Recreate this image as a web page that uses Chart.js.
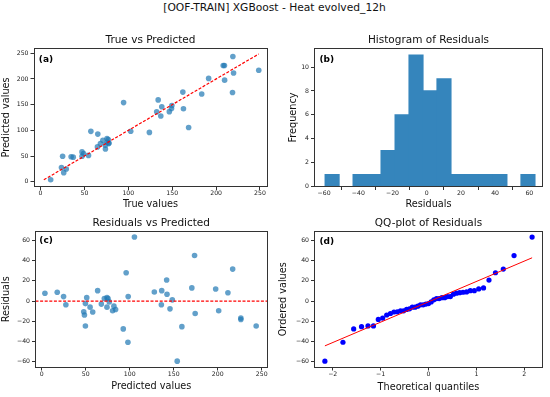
<!DOCTYPE html>
<html>
<head>
<meta charset="utf-8">
<script src="https://cdn.jsdelivr.net/npm/chart.js@4.4.0/dist/chart.umd.min.js"></script>
<style>
  body { margin: 0; background: #fff; }
  #wrap { position: relative; width: 550px; height: 397px; }
  #wrap canvas { position: absolute; left: 0; top: 0; }
  #suptitle { position: absolute; left: 0; top: 0; width: 549px; text-align: center;
              font: 10.7px "DejaVu Sans"; line-height: 15px; color: #111; }
</style>
</head>
<body>
<div id="wrap">
  <div id="suptitle">[OOF-TRAIN] XGBoost - Heat evolved_12h</div>
  <canvas id="chartA" width="550" height="397"></canvas>
  <canvas id="chartB" width="550" height="397"></canvas>
  <canvas id="chartC" width="550" height="397"></canvas>
  <canvas id="chartD" width="550" height="397"></canvas>
</div>
<script>
// values
const trueValues = [11.5, 23.8, 25.1, 26.4, 29.3, 34.8, 37.2, 47.2, 47.2, 49.0, 54.6, 57.3, 64.8, 65.2, 68.2,
                    71.0, 73.9, 73.7, 75.7, 77.1, 76.0, 77.9, 77.6, 94.6, 102.7, 124.0, 132.3, 134.0, 137.0, 138.1,
                    146.7, 149.2, 149.6, 162.1, 162.8, 168.7, 183.6, 191.5, 209.5, 208.1, 209.7, 218.7, 219.1, 219.9, 248.6];
const predValues = [3.7, 27.5, 49.7, 17.7, 24.9, 48.6, 47.8, 49.7, 58.0, 55.0, 51.2, 98.0, 67.8, 92.7, 74.2,
                    80.6, 63.6, 71.2, 84.0, 82.1, 76.8, 75.4, 74.2, 154.0, 98.3, 96.0, 136.0, 159.3, 128.0, 145.8,
                    136.4, 142.4, 148.4, 174.4, 142.0, 105.4, 170.6, 201.1, 226.3, 226.3, 197.7, 173.7, 243.7, 211.6, 217.0];

const binEdges = [-59.4, -51.2, -43.0, -34.9, -26.7, -18.5, -10.3, -2.2, 6.0, 14.2, 22.4, 30.6, 38.7, 46.9, 55.1, 63.3];
const binCounts = [1, 0, 1, 1, 3, 6, 11, 8, 9, 1, 1, 1, 1, 0, 1];

const theoQuantiles = [-2.163, -1.786, -1.562, -1.398, -1.263, -1.149, -1.048, -0.957, -0.873, -0.795, -0.721,
                       -0.651, -0.584, -0.520, -0.457, -0.397, -0.338, -0.280, -0.223, -0.167, -0.111, -0.055, 0,
                       0.055, 0.111, 0.167, 0.223, 0.280, 0.338, 0.397, 0.457, 0.520, 0.584, 0.651, 0.721, 0.795,
                       0.873, 0.957, 1.048, 1.149, 1.263, 1.398, 1.562, 1.786, 2.163];
const fitLineX = [-2.163, 2.163];
const fitLineY = [-44.3, 42.8];

const ticksValues = [0, 50, 100, 150, 200, 250];
const ticksHistX = [-60, -40, -20, 0, 20, 40, 60];
const ticksHistY = [0, 2, 4, 6, 8, 10];
const ticksResid = [-60, -40, -20, 0, 20, 40, 60];
const ticksQuant = [-2, -1, 0, 1, 2];

const residuals = trueValues.map((t, i) => t - predValues[i]);
const orderedResiduals = residuals.slice().sort((a, b) => a - b);

const FONT = '"DejaVu Sans"';
const SCATTER_BLUE = 'rgba(31,119,180,0.7)';

// box around the axes + the (a)/(b)... tag
const frameAndLabel = {
    id: 'frameAndLabel',
    afterDraw(chart, args, opts) {
        const { ctx, chartArea: a } = chart;
        ctx.save();
        ctx.strokeStyle = '#333';
        ctx.lineWidth = 1;
        ctx.strokeRect(Math.floor(a.left) + 0.5, Math.floor(a.top) + 0.5,
                       Math.round(a.right - a.left), Math.round(a.bottom - a.top));
        ctx.fillStyle = '#000';
        ctx.font = 'bold 9px ' + FONT;
        ctx.textBaseline = 'top';
        ctx.textAlign = 'left';
        ctx.fillText(opts.text, a.left + opts.dx, a.top + opts.dy);
        ctx.restore();
    }
};

function makeAxis(o) {
    return {
        type: 'linear',
        min: o.min,
        max: o.max,
        offset: false,
        grid: { drawOnChartArea: false, drawTicks: true, tickLength: 3.5, color: '#333', lineWidth: 1 },
        border: { display: false },
        ticks: {
            font: { family: FONT, size: 6.2, lineHeight: 1 },
            color: '#1a1a1a',
            padding: o.tickPad,
            autoSkip: false,
            maxRotation: 0,
            callback: v => String(v).replace('-', '\u2212')
        },
        title: {
            display: true,
            text: o.title,
            font: { family: FONT, size: 9.7, lineHeight: 1.2 },
            color: '#111',
            padding: o.titlePad
        },
        afterBuildTicks: s => { s.ticks = o.ticks.map(v => ({ value: v })); },
        afterFit: s => { if (s.isHorizontal()) s.height = o.size; else s.width = o.size; }
    };
}

function baseOptions(o) {
    return {
        responsive: false,
        animation: false,
        devicePixelRatio: 1,
        layout: { padding: o.padding },
        plugins: {
            legend: { display: false },
            tooltip: { enabled: false },
            title: {
                display: true,
                text: o.title,
                fullSize: false,
                font: { family: FONT, size: 10.5, weight: 'normal', lineHeight: 1.2 },
                color: '#111',
                padding: { top: 0, bottom: 2 }
            },
            frameAndLabel: o.label
        },
        scales: o.scales
    };
}

document.addEventListener('DOMContentLoaded', function() {
    // (a) true vs predicted
    new Chart(document.getElementById('chartA'), {
        type: 'scatter',
        plugins: [frameAndLabel],
        data: {
            datasets: [{
                data: trueValues.map((t, i) => ({ x: t, y: predValues[i] })),
                backgroundColor: SCATTER_BLUE,
                borderWidth: 0,
                pointRadius: 2.8,
                order: 1
            }, {
                data: [{ x: Math.min(...predValues), y: Math.min(...predValues) },
                       { x: Math.max(...trueValues), y: Math.max(...trueValues) }],
                showLine: true,
                borderColor: '#ff0000',
                borderWidth: 1.2,
                borderDash: [3, 1.6],
                pointRadius: 0,
                order: 0
            }]
        },
        options: baseOptions({
            title: 'True vs Predicted',
            padding: { left: 0, right: 283, top: 33.9, bottom: 185.5 },
            label: { text: '(a)', dx: 4.8, dy: 6.7 },
            scales: {
                x: makeAxis({ min: -7.5, max: 258, ticks: ticksValues, title: 'True values',
                              tickPad: 0.5, titlePad: { top: 0, bottom: 1 }, size: 25 }),
                y: makeAxis({ min: -9.3, max: 259.3, ticks: ticksValues, title: 'Predicted values',
                              tickPad: 2, titlePad: { top: 1.1, bottom: 0 }, size: 34 })
            }
        })
    });

    // (b) histogram of residuals
    const binCenters = binCounts.map((c, i) => (binEdges[i] + binEdges[i + 1]) / 2);
    new Chart(document.getElementById('chartB'), {
        type: 'bar',
        plugins: [frameAndLabel],
        data: {
            datasets: [{
                data: binCounts.map((c, i) => ({ x: binCenters[i], y: c })),
                backgroundColor: 'rgb(53,133,188)',
                borderWidth: 0,
                inflateAmount: 0.6,
                barPercentage: 1,
                categoryPercentage: 1
            }]
        },
        options: baseOptions({
            title: 'Histogram of Residuals',
            padding: { left: 275, right: 7.5, top: 33.9, bottom: 185.5 },
            label: { text: '(b)', dx: 5, dy: 6.7 },
            scales: {
                x: makeAxis({ min: -65.6, max: 67.7, ticks: ticksHistX, title: 'Residuals',
                              tickPad: 0.5, titlePad: { top: 0, bottom: 1 }, size: 25 }),
                y: makeAxis({ min: 0, max: 11.55, ticks: ticksHistY, title: 'Frequency',
                              tickPad: 2, titlePad: { top: 13.1, bottom: 0 }, size: 39.5 })
            }
        })
    });

    // (c) residuals vs predicted
    new Chart(document.getElementById('chartC'), {
        type: 'scatter',
        plugins: [frameAndLabel],
        data: {
            datasets: [{
                data: predValues.map((p, i) => ({ x: p, y: residuals[i] })),
                backgroundColor: SCATTER_BLUE,
                borderWidth: 0,
                pointRadius: 2.8,
                order: 1
            }, {
                data: [{ x: -7, y: 0 }, { x: 256, y: 0 }],
                showLine: true,
                borderColor: '#ff0000',
                borderWidth: 1.2,
                borderDash: [3, 1.6],
                pointRadius: 0,
                order: 0
            }]
        },
        options: baseOptions({
            title: 'Residuals vs Predicted',
            padding: { left: 0, right: 283, top: 216.9, bottom: 0 },
            label: { text: '(c)', dx: 3.8, dy: 4.7 },
            scales: {
                x: makeAxis({ min: -7, max: 256, ticks: ticksValues, title: 'Predicted values',
                              tickPad: 0.5, titlePad: { top: 0, bottom: 4.5 }, size: 30 }),
                y: makeAxis({ min: -65.2, max: 68.8, ticks: ticksResid, title: 'Residuals',
                              tickPad: 2, titlePad: { top: 1.1, bottom: 0 }, size: 35.5 })
            }
        })
    });

    // (d) QQ plot
    new Chart(document.getElementById('chartD'), {
        type: 'scatter',
        plugins: [frameAndLabel],
        data: {
            datasets: [{
                data: theoQuantiles.map((q, i) => ({ x: q, y: orderedResiduals[i] })),
                backgroundColor: '#0000ff',
                borderWidth: 0,
                pointRadius: 2.6,
                order: 1
            }, {
                data: fitLineX.map((x, i) => ({ x: x, y: fitLineY[i] })),
                showLine: true,
                borderColor: '#ff0000',
                borderWidth: 1,
                pointRadius: 0,
                order: 0
            }]
        },
        options: baseOptions({
            title: 'QQ-plot of Residuals',
            padding: { left: 275, right: 7.5, top: 216.9, bottom: 0 },
            label: { text: '(d)', dx: 5, dy: 5.2 },
            scales: {
                x: makeAxis({ min: -2.38, max: 2.38, ticks: ticksQuant, title: 'Theoretical quantiles',
                              tickPad: 0.5, titlePad: { top: 0, bottom: 4 }, size: 30 }),
                y: makeAxis({ min: -65.2, max: 68.8, ticks: ticksResid, title: 'Ordered values',
                              tickPad: 2, titlePad: { top: 2.6, bottom: 0 }, size: 39.5 })
            }
        })
    });
});
</script>
</body>
</html>
